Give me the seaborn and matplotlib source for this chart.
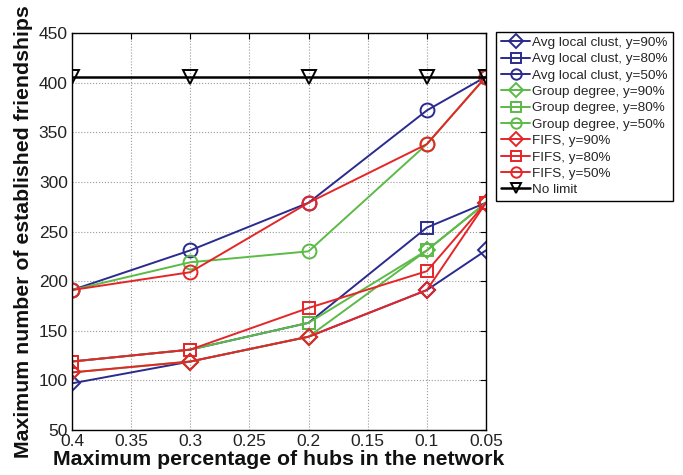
import matplotlib
matplotlib.use("Agg")
import matplotlib.pyplot as plt
import seaborn as sns
import pandas as pd

# ---- data ----
hub_pct = [0.4, 0.3, 0.2, 0.1, 0.05]

avg_clust_90 = [97, 119, 144, 191, 231]
avg_clust_80 = [119, 131, 158, 254, 279]
avg_clust_50 = [191, 231, 279, 372, 406]
group_deg_90 = [108, 119, 144, 231, 279]
group_deg_80 = [119, 131, 158, 231, 279]
group_deg_50 = [191, 219, 230, 338, 406]
fifs_90 = [108, 119, 144, 191, 279]
fifs_80 = [119, 131, 173, 210, 279]
fifs_50 = [191, 209, 279, 338, 406]
no_limit = [406, 406, 406, 406, 406]

series_names = [
    "Avg local clust, y=90%", "Avg local clust, y=80%", "Avg local clust, y=50%",
    "Group degree, y=90%", "Group degree, y=80%", "Group degree, y=50%",
    "FIFS, y=90%", "FIFS, y=80%", "FIFS, y=50%", "No limit",
]
series_values = [avg_clust_90, avg_clust_80, avg_clust_50,
                 group_deg_90, group_deg_80, group_deg_50,
                 fifs_90, fifs_80, fifs_50, no_limit]

x_ticks = [0.4, 0.35, 0.3, 0.25, 0.2, 0.15, 0.1, 0.05]
x_tick_labels = ["0.4", "0.35", "0.3", "0.25", "0.2", "0.15", "0.1", "0.05"]
y_ticks = [50, 100, 150, 200, 250, 300, 350, 400, 450]

# ---- styling ----
sns.set_style("white")
plt.rcParams['font.family'] = ['Liberation Sans', 'DejaVu Sans']

blue = "#2b2b8e"
green = "#5cba47"
red = "#e52628"
black = "#000000"
colors = [blue, blue, blue, green, green, green, red, red, red, black]
markers = ["D", "s", "o", "D", "s", "o", "D", "s", "o", "v"]
msizes = [8.5, 8.5, 10, 8.5, 8.5, 10, 8.5, 8.5, 10, 10]
lwidths = [1.4] * 9 + [1.8]

rows = []
for name, vals in zip(series_names, series_values):
    for xv, yv in zip(hub_pct, vals):
        rows.append({"x": xv, "y": yv, "series": name})
df = pd.DataFrame(rows)

fig = plt.figure(figsize=(6.83, 4.75), dpi=100)
ax = fig.add_axes([72 / 683, 1 - 430 / 475, (486 - 72) / 683, (430 - 33) / 475])

for name, c, m, ms, lw in zip(series_names, colors, markers, msizes, lwidths):
    sub = df[df["series"] == name]
    sns.lineplot(data=sub, x="x", y="y", ax=ax, color=c, marker=m,
                 markersize=ms, markerfacecolor="none", markeredgecolor=c,
                 markeredgewidth=1.4, linewidth=lw, label=name,
                 estimator=None, sort=False)

ax.set_xlim(0.4, 0.05)
ax.set_ylim(50, 450)
ax.set_xticks(x_ticks)
ax.set_xticklabels(x_tick_labels)
ax.set_yticks(y_ticks)
ax.tick_params(axis="both", direction="in", top=True, right=True,
               labelsize=12.5, length=4, width=0.8, pad=3, colors="black")
for lab in ax.get_xticklabels() + ax.get_yticklabels():
    lab.set_color("#222222")
ax.grid(True, linestyle=":", color="#999999", linewidth=0.8)
for sp in ax.spines.values():
    sp.set_color("black")
    sp.set_linewidth(1.0)

ax.set_xlabel("Maximum percentage of hubs in the network",
              fontsize=15.3, fontweight="bold", color="#111111")
ax.xaxis.set_label_coords(0.5, -0.05)
ax.set_ylabel("Maximum number of established friendships",
              fontsize=15.3, fontweight="bold", color="#111111")
ax.yaxis.set_label_coords(-0.094, 0.5)

leg = ax.legend(loc="upper left", bbox_to_anchor=(496 / 683, 1 - 32 / 475),
                bbox_transform=fig.transFigure, fontsize=9.7, frameon=True,
                fancybox=False, edgecolor="black", framealpha=1,
                handlelength=2.2, handletextpad=0.15, borderpad=0.35,
                labelspacing=0.29, borderaxespad=0)
leg.get_frame().set_linewidth(1.0)
for h in leg.legend_handles:
    h.set_markersize(7.5)

fig.savefig("out.png", dpi=100)
